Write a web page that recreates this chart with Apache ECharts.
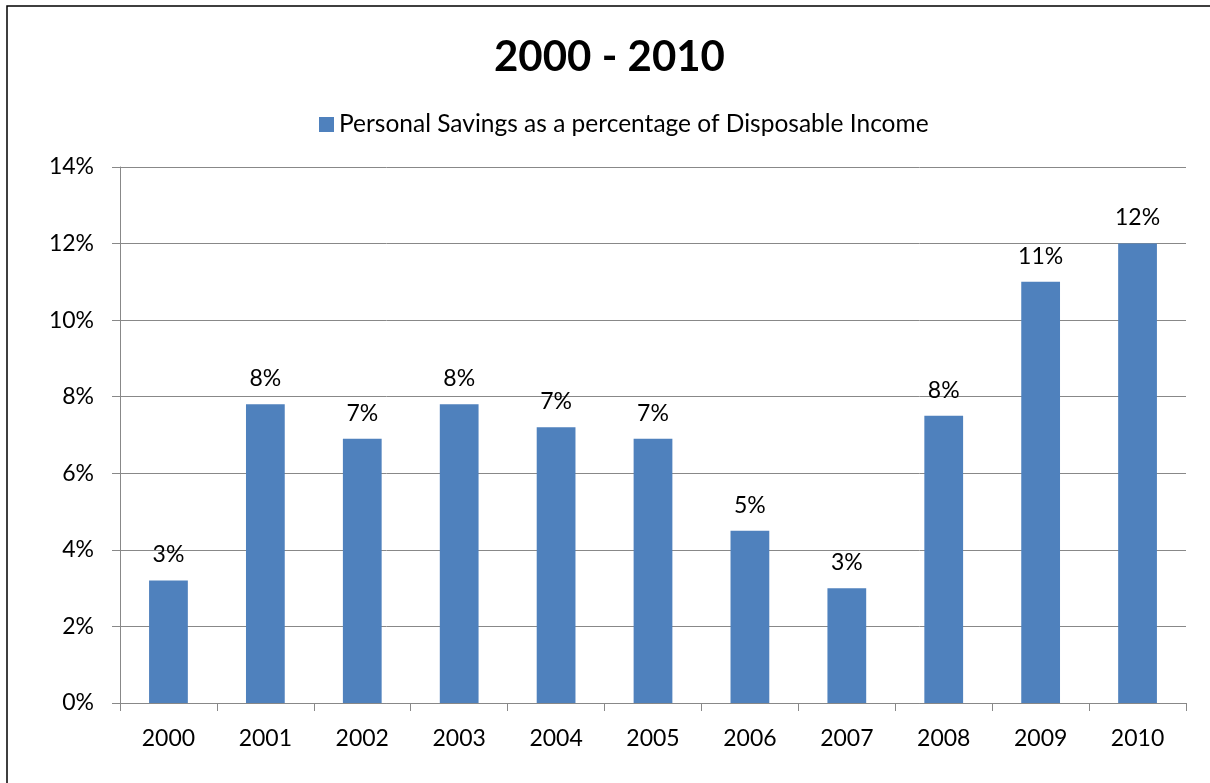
<!DOCTYPE html>
<html>
<head>
<meta charset="utf-8">
<script src="https://cdn.jsdelivr.net/npm/echarts@6/dist/echarts.min.js"></script>
<style>
  html, body { margin: 0; padding: 0; background: #fff; }
  #chart { width: 1210px; height: 783px; }
</style>
</head>
<body>
<div id="chart"></div>
<script>
// Personal savings rate, 2000 - 2010
const years = ['2000', '2001', '2002', '2003', '2004', '2005', '2006', '2007', '2008', '2009', '2010'];
const savingsRate = [3.2, 7.8, 6.9, 7.8, 7.2, 6.9, 4.5, 3.0, 7.5, 11.0, 12.0];
const seriesName = 'Personal Savings as a percentage of Disposable Income';
const yTicks = [0, 2, 4, 6, 8, 10, 12, 14];

const FONT = 'Lato, "Open Sans", sans-serif';
const LABEL_SIZE = 23;

const chart = echarts.init(document.getElementById('chart'), null, { renderer: 'canvas' });
chart.setOption({
  animation: false,
  backgroundColor: '#fff',
  textStyle: { fontFamily: FONT },
  graphic: [{
    type: 'rect',
    shape: { x: 7, y: 6, width: 1300, height: 900 },
    style: { fill: 'none', stroke: '#000', lineWidth: 1.5 },
    silent: true
  }],
  title: {
    text: '2000 - 2010',
    left: 494,
    top: 36,
    padding: 0,
    textStyle: { fontFamily: FONT, fontSize: 42, fontWeight: 'bold', color: '#000' }
  },
  legend: {
    top: 107,
    left: 314,
    itemWidth: 15,
    itemHeight: 15,
    itemGap: 7,
    textStyle: { fontFamily: FONT, fontSize: 24.5, color: '#000' },
    data: [{ name: seriesName, icon: 'rect' }]
  },
  grid: { left: 120, right: 24, top: 167, bottom: 80, containLabel: false },
  xAxis: {
    type: 'category',
    data: years,
    axisLine: { lineStyle: { color: '#888', width: 1 } },
    axisTick: { show: true, length: 8, lineStyle: { color: '#888' } },
    axisLabel: { fontFamily: FONT, fontSize: LABEL_SIZE, color: '#000', margin: 24 }
  },
  yAxis: {
    type: 'value',
    min: yTicks[0],
    max: yTicks[yTicks.length - 1],
    interval: 2,
    axisLine: { show: true, lineStyle: { color: '#888', width: 1 } },
    axisTick: { show: true, length: 8, lineStyle: { color: '#888' } },
    splitLine: { show: true, lineStyle: { color: '#888', width: 1 } },
    axisLabel: { fontFamily: FONT, fontSize: LABEL_SIZE, color: '#000', margin: 26, formatter: v => v + '%' }
  },
  series: [{
    name: seriesName,
    type: 'bar',
    data: savingsRate,
    barCategoryGap: '60%',
    itemStyle: { color: '#4f81bd' },
    label: {
      show: true,
      position: 'top',
      distance: 14,
      fontFamily: FONT,
      fontSize: LABEL_SIZE,
      color: '#000',
      formatter: p => Math.round(p.value) + '%'
    }
  }]
});
</script>
</body>
</html>
